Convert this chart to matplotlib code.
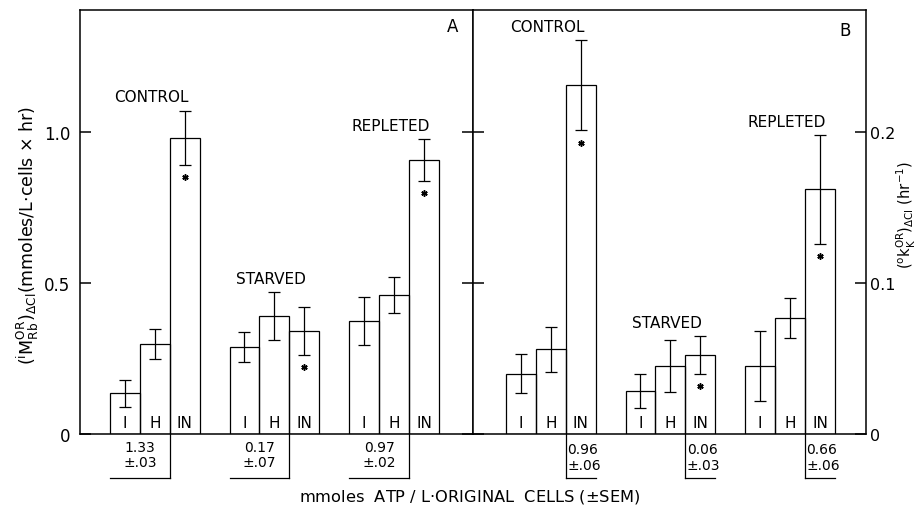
import numpy as np
import matplotlib
matplotlib.use("Agg")
import matplotlib.pyplot as plt
from matplotlib.transforms import blended_transform_factory

plt.rcParams['font.family'] = ['DejaVu Sans']
plt.rcParams['mathtext.fontset'] = 'dejavusans'

# ---- data -------------------------------------------------------------
groups = ["CONTROL", "STARVED", "REPLETED"]
treatments = ["I", "H", "IN"]

# Panel A: ouabain-resistant Rb influx, mmoles/L cells x hr
flux_control = [0.135, 0.298, 0.98]
flux_control_sem = [0.045, 0.05, 0.09]
flux_starved = [0.288, 0.39, 0.341]
flux_starved_sem = [0.05, 0.08, 0.08]
flux_repleted = [0.374, 0.46, 0.907]
flux_repleted_sem = [0.078, 0.06, 0.07]

# Panel B: ouabain-resistant K efflux rate constant, hr^-1
rate_control = [0.040, 0.056, 0.231]
rate_control_sem = [0.013, 0.015, 0.030]
rate_starved = [0.0285, 0.045, 0.0523]
rate_starved_sem = [0.0115, 0.0175, 0.0123]
rate_repleted = [0.045, 0.0768, 0.162]
rate_repleted_sem = [0.023, 0.013, 0.036]

# ATP content, mmoles/L original cells (+/- SEM)
atp_a = ["1.33", "0.17", "0.97"]
atp_a_sem = [".03", ".07", ".02"]
atp_b = ["0.96", "0.06", "0.66"]
atp_b_sem = [".06", ".03", ".06"]

# ---- layout -----------------------------------------------------------
W, H = 916, 506
fig = plt.figure(figsize=(W / 100, H / 100), dpi=100)
bottom_px, top_px = 435, 11
x_left, x_mid, x_right = 80, 473, 866
ax_h = (bottom_px - top_px) / H
ax_y = 1 - bottom_px / H
axA = fig.add_axes([x_left / W, ax_y, (x_mid - x_left) / W, ax_h])
axB = fig.add_axes([x_mid / W, ax_y, (x_right - x_mid) / W, ax_h])

LW = 0.9


def draw_panel(ax, means, sems, atp, atp_sem, x0, unit, style, ymax):
    trans = blended_transform_factory(ax.transData, ax.transAxes)
    for g in range(3):
        m = np.asarray(means[g])
        s = np.asarray(sems[g])
        left = x0 + 4 * g + np.arange(3)
        centers = left + 0.5
        ax.bar(centers, m, width=1.0, fill=False, edgecolor='black',
               linewidth=LW, zorder=2)
        ax.errorbar(centers, m, yerr=s, fmt='none', ecolor='black',
                    elinewidth=LW, capsize=4.5, capthick=LW, zorder=3)
        # significance marker under the IN error bar
        ax.plot(centers[2], m[2] - s[2] - 0.04 * unit, marker=(6, 2, 0),
                ms=4.5, mew=1.1, color='black', zorder=3)
        for c, t in zip(centers, treatments):
            ax.text(c, 0.028, t, transform=trans, ha='center', va='center',
                    fontsize=11)
        # group name above the tallest error bar
        top = np.max(m + s)
        ax.annotate(groups[g], xy=(left[0] + 1.4, top), xytext=(0, 10),
                    textcoords='offset points', ha='center', va='center',
                    fontsize=11)
        # ATP bracket below the axis
        yb = -0.104
        xv = left[0] + 2
        ax.plot([xv, xv], [0, yb], color='black', lw=LW, transform=trans,
                clip_on=False)
        if style == 'A':
            ax.plot([left[0], xv], [yb, yb], color='black', lw=LW,
                    transform=trans, clip_on=False)
            ax.text(left[0] + 1.0, -0.048, f"{atp[g]}\n±{atp_sem[g]}",
                    transform=trans, ha='center', va='center', fontsize=10,
                    linespacing=1.15)
        else:
            ax.plot([xv, xv + 1], [yb, yb], color='black', lw=LW,
                    transform=trans, clip_on=False)
            ax.text(xv + 0.05, -0.054, f"{atp[g]}\n±{atp_sem[g]}",
                    transform=trans, ha='left', va='center', fontsize=10,
                    linespacing=1.15)
    ax.set_xlim(0, 13.14)
    ax.set_ylim(0, ymax)
    ax.set_xticks([])
    for sp in ax.spines.values():
        sp.set_linewidth(1.1)


draw_panel(axA, [flux_control, flux_starved, flux_repleted],
           [flux_control_sem, flux_starved_sem, flux_repleted_sem],
           atp_a, atp_a_sem, 1.0, 1.0, 'A', 1.404)
draw_panel(axB, [rate_control, rate_starved, rate_repleted],
           [rate_control_sem, rate_starved_sem, rate_repleted_sem],
           atp_b, atp_b_sem, 1.1, 0.2, 'B', 1.404 * 0.2)

axA.set_yticks([0, 0.5, 1.0])
axA.set_yticklabels(["0", "0.5", "1.0"])
axA.tick_params(axis='y', direction='in', length=8, width=1.1, labelsize=12,
                left=True, right=True, labelleft=True, labelright=False, pad=7)
axB.set_yticks([0, 0.1, 0.2])
axB.set_yticklabels(["0", "0.1", "0.2"])
axB.tick_params(axis='y', direction='in', length=8, width=1.1, labelsize=11.5,
                left=True, right=True, labelleft=False, labelright=True, pad=3)

axA.text(0.949, 0.962, "A", transform=axA.transAxes, ha='center',
         va='center', fontsize=12)
axB.text(0.947, 0.952, "B", transform=axB.transAxes, ha='center',
         va='center', fontsize=12)

fig.text(470 / W, 1 - 497 / H, "mmoles  ATP / L$\\cdot$ORIGINAL  CELLS (±SEM)",
         ha='center', va='center', fontsize=11.7)
fig.text(28 / W, 1 - 235 / H,
         r"$(^{\mathrm{i}}\mathrm{M}^{\mathrm{OR}}_{\mathrm{Rb}})_{\Delta\mathrm{Cl}}$"
         r"(mmoles/L$\cdot$cells $\times$ hr)",
         rotation=90, ha='center', va='center', fontsize=12.5)
fig.text(906 / W, 1 - 215 / H,
         r"$(^{\mathrm{o}}\mathrm{k}^{\mathrm{OR}}_{\mathrm{K}})_{\Delta\mathrm{Cl}}"
         r"\ (\mathrm{hr}^{-1})$",
         rotation=90, ha='center', va='center', fontsize=10.5)

fig.savefig("out.png", dpi=100)
